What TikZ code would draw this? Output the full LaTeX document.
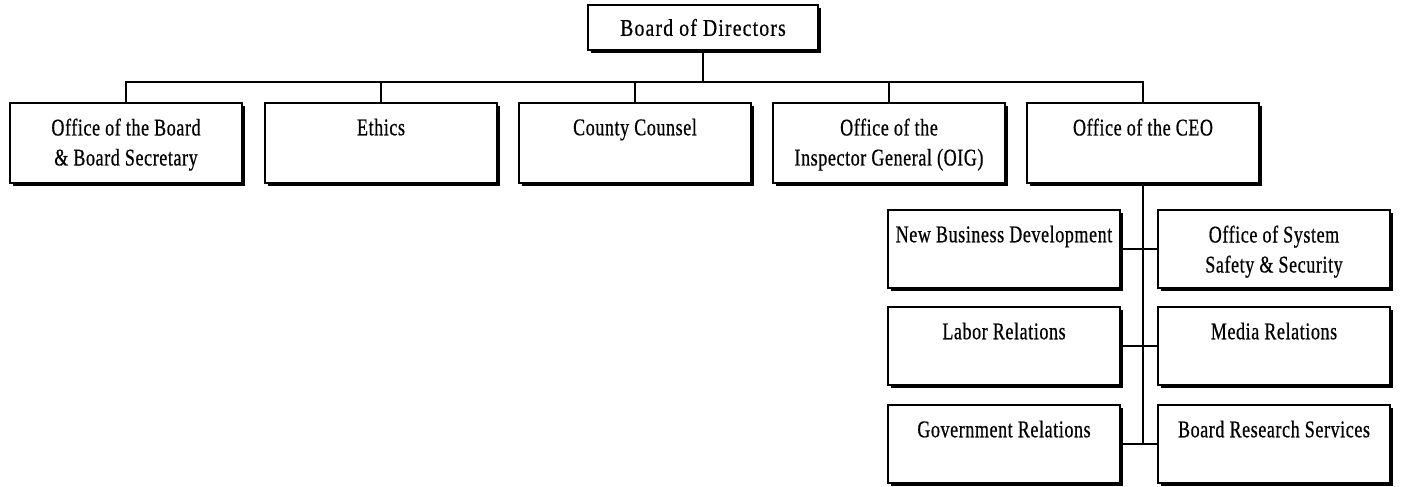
\documentclass[tikz,border=0pt]{standalone}
\usepackage{fontspec}
\setmainfont[FakeStretch=0.75, LetterSpace=2.5, FakeBold=0.6]{Liberation Serif}
\newfontfamily\boardfont[FakeStretch=0.82, LetterSpace=5, FakeBold=0.6]{Liberation Serif}
\usetikzlibrary{shadows}
\tikzset{
  box/.style={draw=black, line width=1.2pt, fill=white, rectangle, inner sep=0pt,
    minimum width=232pt, minimum height=80pt,
    drop shadow={shadow xshift=2.6pt, shadow yshift=-2.6pt, fill=black, opacity=1}},
  subbox/.style={box, minimum height=78pt},
  topbox/.style={box, minimum width=230pt, minimum height=45pt},
  txt/.style={anchor=north, inner sep=0pt, yshift=-16pt, align=center,
    font=\fontsize{24}{30}\selectfont},
  conn/.style={draw=black, line width=1.4pt}
}
\begin{document}
\begin{tikzpicture}[x=1pt, y=1pt]
\useasboundingbox (0,0) rectangle (1401,-487);
% nodes (boxes)
\node[topbox] (bod) at (703,-27.5) {};
\node[box] (obs) at (126,-143) {};
\node[box] (eth) at (381,-143) {};
\node[box] (cc)  at (635,-143) {};
\node[box] (oig) at (889,-143) {};
\node[box] (ceo) at (1143,-143) {};
\node[subbox] (nbd) at (1004,-249) {};
\node[subbox] (oss) at (1274,-249) {};
\node[subbox] (lab) at (1004,-346) {};
\node[subbox] (med) at (1274,-346) {};
\node[subbox] (gov) at (1004,-444) {};
\node[subbox] (brs) at (1274,-444) {};
\coordinate (bus) at (703,-82);
\coordinate (spineend) at (1143,-444);
% connectors
\draw[conn] (bod.south) -- (bus);
\draw[conn] (obs.north) |- (bus);
\draw[conn] (ceo.north) |- (bus);
\draw[conn] (eth.north) -- (eth.north |- bus);
\draw[conn] (cc.north) -- (cc.north |- bus);
\draw[conn] (oig.north) -- (oig.north |- bus);
\draw[conn] (ceo.south) -- (spineend);
\draw[conn] (nbd.east) -- (oss.west);
\draw[conn] (lab.east) -- (med.west);
\draw[conn] (gov.east) -- (brs.west);
% texts
\node[anchor=center, inner sep=0pt, font=\fontsize{24}{30}\selectfont\boardfont] (bod-t) at (bod.center) {Board of Directors};
\node[txt] (obs-t) at (obs.north) {Office of the Board\\\& Board Secretary};
\node[txt] (eth-t) at (eth.north) {Ethics};
\node[txt] (cc-t) at (cc.north) {County Counsel};
\node[txt] (oig-t) at (oig.north) {Office of the\\Inspector General (OIG)};
\node[txt] (ceo-t) at (ceo.north) {Office of the CEO};
\node[txt] (nbd-t) at (nbd.north) {New Business Development};
\node[txt] (oss-t) at (oss.north) {Office of System\\Safety \& Security};
\node[txt] (lab-t) at (lab.north) {Labor Relations};
\node[txt] (med-t) at (med.north) {Media Relations};
\node[txt] (gov-t) at (gov.north) {Government Relations};
\node[txt] (brs-t) at (brs.north) {Board Research Services};
\end{tikzpicture}
\end{document}
